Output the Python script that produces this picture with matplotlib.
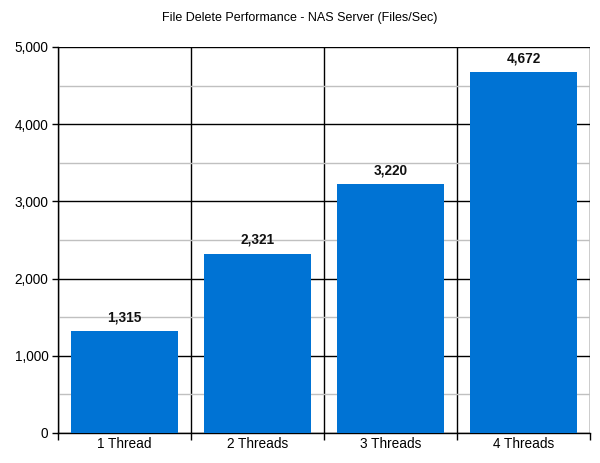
import matplotlib
matplotlib.use('Agg')
import matplotlib.pyplot as plt
from matplotlib.ticker import FuncFormatter, MultipleLocator

plt.rcParams['font.family'] = ['Liberation Sans', 'DejaVu Sans']

# dane
categories = ['1 Thread', '2 Threads', '3 Threads', '4 Threads']
files_per_sec = [1315, 2321, 3220, 4672]

fig = plt.figure(figsize=(6.0, 4.63), dpi=100)
ax = fig.add_axes([0.0967, 0.0648, 0.8866, 0.8337])

x = list(range(len(categories)))
ax.bar(x, files_per_sec, width=0.8, color='#0073D4', zorder=3)

for xi, v in zip(x, files_per_sec):
    ax.text(xi, v + 90, f'{v:,}', ha='center', va='bottom',
            fontsize=9.8, fontweight='bold', color='#111111', zorder=4)

ax.set_xlim(-0.5, len(categories) - 0.5)
ax.set_ylim(0, 5000)

# os Y
ax.yaxis.set_major_locator(MultipleLocator(1000))
ax.yaxis.set_minor_locator(MultipleLocator(500))
ax.yaxis.set_major_formatter(FuncFormatter(lambda v, p: f'{int(v):,}'))
ax.grid(which='major', axis='y', color='black', linewidth=1.0, zorder=1)
ax.grid(which='minor', axis='y', color='#C0C0C0', linewidth=1.0, zorder=1)
ax.tick_params(axis='y', which='major', length=4, width=1, labelsize=9.8, color='black', pad=3)
ax.tick_params(axis='y', which='minor', length=0)

# os X - linie miedzy kategoriami
ax.set_xticks(x)
ax.set_xticklabels(categories)
ax.set_xticks([i - 0.5 for i in range(len(categories) + 1)], minor=True)
ax.grid(which='minor', axis='x', color='black', linewidth=1.0, zorder=1)
ax.tick_params(axis='x', which='major', length=0, labelsize=9.8, pad=3)
ax.tick_params(axis='x', which='minor', length=5, width=1, color='black')

for s in ['top', 'right']:
    ax.spines[s].set_visible(False)
ax.spines['left'].set_linewidth(1.0)
ax.spines['bottom'].set_linewidth(1.0)

fig.text(0.5, 0.962, 'File Delete Performance - NAS Server (Files/Sec)',
         ha='center', va='center', fontsize=9)

fig.savefig('out.png', dpi=100)
